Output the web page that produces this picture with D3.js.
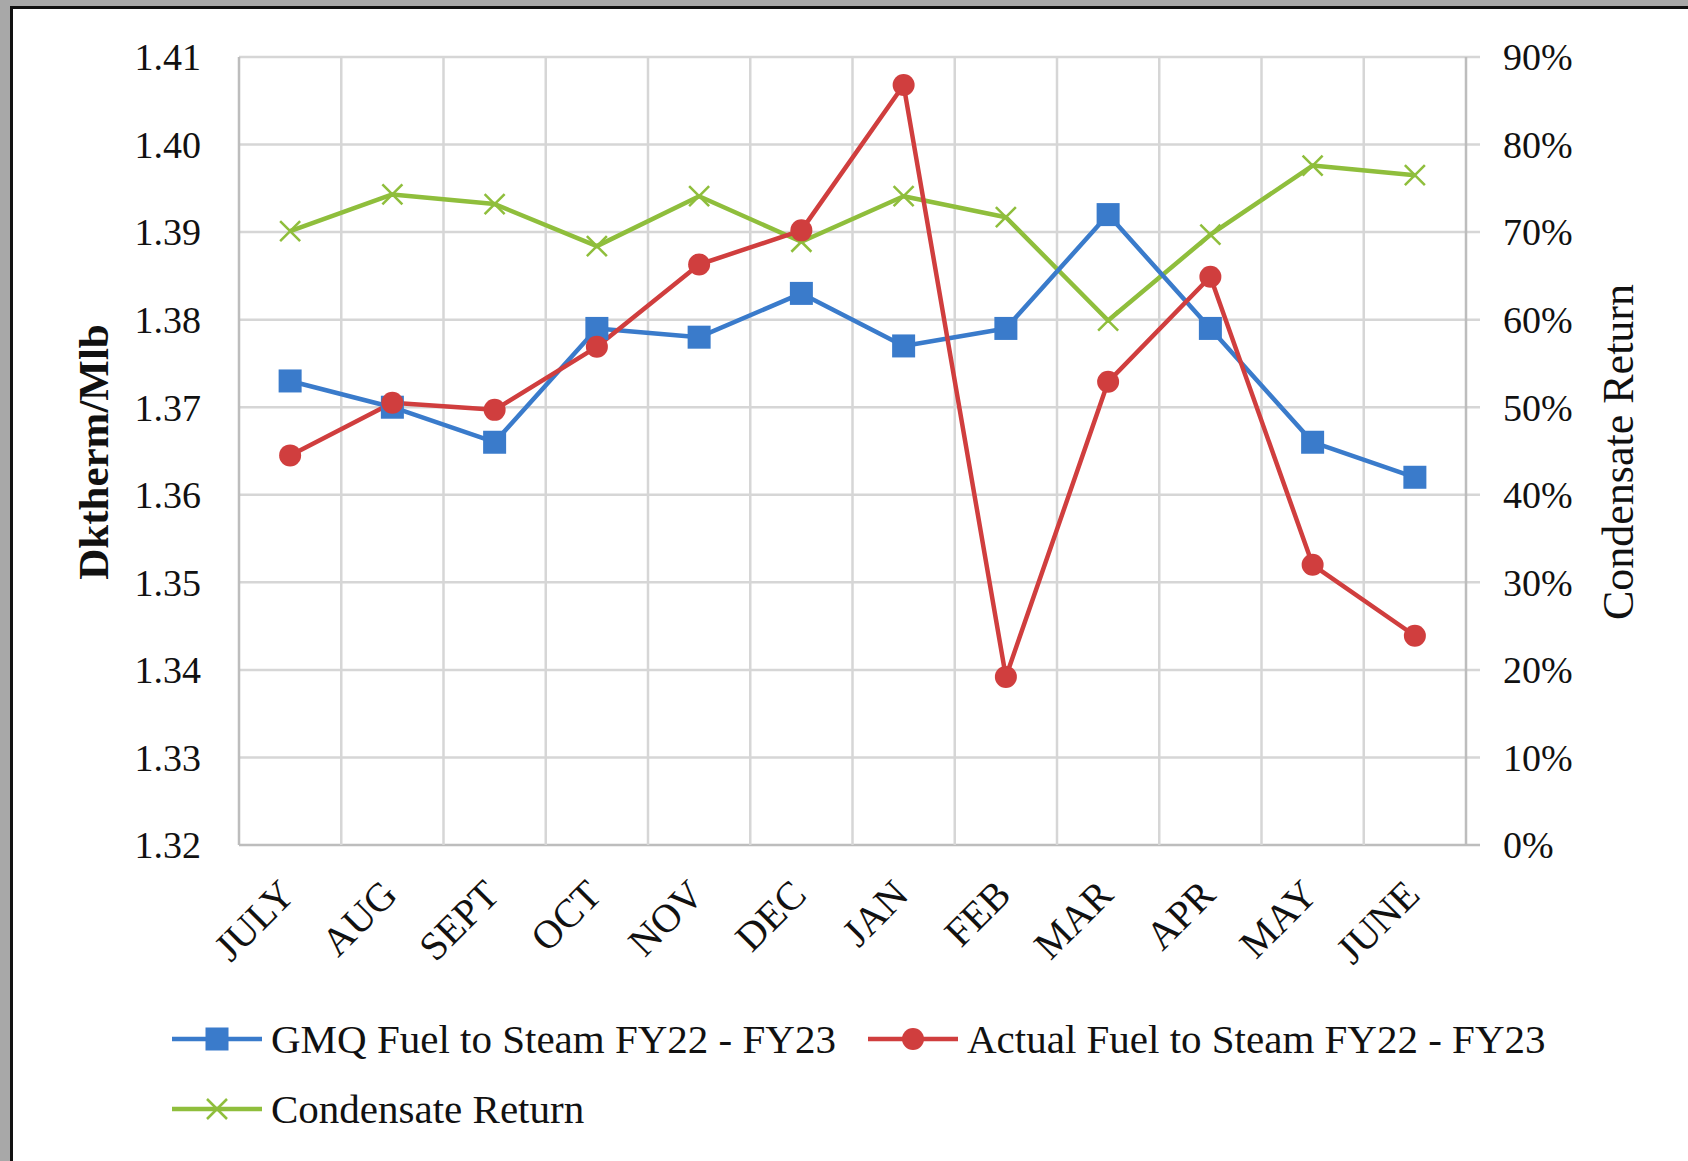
<!DOCTYPE html>
<html><head><meta charset="utf-8">
<script src="https://cdn.jsdelivr.net/npm/d3@7"></script>
<style>
html,body{margin:0;padding:0;background:#fff;}
svg{display:block;}
text{font-family:"Liberation Serif","Times New Roman",serif;fill:#111;}
</style></head>
<body>
<svg id="chart" width="1688" height="1161"></svg>
<script>
const months = ["JULY","AUG","SEPT","OCT","NOV","DEC","JAN","FEB","MAR","APR","MAY","JUNE"];
const gmq = [1.373,1.370,1.366,1.379,1.378,1.383,1.377,1.379,1.392,1.379,1.366,1.362];
const actual = [1.3645,1.3705,1.3697,1.3769,1.3863,1.3902,1.4068,1.3392,1.3729,1.3849,1.352,1.3439];
const condensate = [0.701,0.743,0.732,0.684,0.741,0.689,0.741,0.717,0.599,0.697,0.776,0.765];
const leftTicks = [1.32,1.33,1.34,1.35,1.36,1.37,1.38,1.39,1.40,1.41];
const rightTicks = [0,0.1,0.2,0.3,0.4,0.5,0.6,0.7,0.8,0.9];
const seriesNames = ["GMQ Fuel to Steam FY22 - FY23","Actual Fuel to Steam FY22 - FY23","Condensate Return"];
const leftTitle = "Dktherm/Mlb";
const rightTitle = "Condensate Return";

const svg = d3.select("#chart");
const W = 1688, H = 1161;
const P = {left:239, right:1466, top:57, bottom:845};
const colors = {blue:"#3A7BCB", red:"#D03E3E", green:"#8FBE3C", grid:"#D6D6D6", axis:"#BDBDBD"};

// frame
svg.append("rect").attr("x",0).attr("y",0).attr("width",W).attr("height",H).attr("fill","#fff");
svg.append("rect").attr("x",0).attr("y",0).attr("width",10).attr("height",H).attr("fill","#A8A8A8");
svg.append("rect").attr("x",0).attr("y",0).attr("width",W).attr("height",6).attr("fill","#A8A8A8");
svg.append("rect").attr("x",10).attr("y",6).attr("width",3).attr("height",H-6).attr("fill","#111");
svg.append("rect").attr("x",10).attr("y",6).attr("width",W-10).attr("height",3).attr("fill","#111");

const x = d3.scaleBand().domain(months).range([P.left,P.right]).paddingInner(0).paddingOuter(0);
const y = d3.scaleLinear().domain([1.32,1.41]).range([P.bottom,P.top]);
const y2 = d3.scaleLinear().domain([0,0.9]).range([P.bottom,P.top]);
const cx = m => x(m) + x.bandwidth()/2;

// grid
const g = svg.append("g");
leftTicks.forEach(t=>{
  g.append("line").attr("x1",P.left).attr("x2",P.right+14).attr("y1",y(t)).attr("y2",y(t))
   .attr("stroke", t===1.32? colors.axis: colors.grid).attr("stroke-width",2.5);
});
months.forEach(m=>{
  g.append("line").attr("x1",x(m)).attr("x2",x(m)).attr("y1",P.top).attr("y2",P.bottom)
   .attr("stroke", m===months[0]? colors.axis: colors.grid).attr("stroke-width",2.5);
});
g.append("line").attr("x1",P.right).attr("x2",P.right).attr("y1",P.top).attr("y2",P.bottom)
 .attr("stroke",colors.axis).attr("stroke-width",2.5);

// left axis labels
const fmtL = d3.format(".2f");
svg.append("g").selectAll("text").data(leftTicks).join("text")
  .attr("x",201).attr("y",d=>y(d)).attr("dy","0.35em").attr("text-anchor","end")
  .attr("font-size",38).text(d=>fmtL(d));
// right axis labels
const fmtR = d3.format(".0%");
svg.append("g").selectAll("text").data(rightTicks).join("text")
  .attr("x",1503).attr("y",d=>y2(d)).attr("dy","0.35em").attr("text-anchor","start")
  .attr("font-size",38).text(d=>fmtR(d));
// x labels
svg.append("g").selectAll("text").data(months).join("text")
  .attr("transform",d=>`translate(${cx(d)-3},${P.bottom+42}) rotate(-45)`)
  .attr("text-anchor","end").attr("dy","0.35em").attr("font-size",40).text(d=>d);

// titles
svg.append("text").attr("transform",`translate(108,452) rotate(-90)`).attr("text-anchor","middle")
  .attr("font-size",43).attr("font-weight","bold").text(leftTitle);
svg.append("text").attr("transform",`translate(1633,452) rotate(-90)`).attr("text-anchor","middle")
  .attr("font-size",44).text(rightTitle);

// lines
const lineL = d3.line().x((d,i)=>cx(months[i])).y(d=>y(d));
const lineR = d3.line().x((d,i)=>cx(months[i])).y(d=>y2(d));
svg.append("path").attr("d",lineR(condensate)).attr("fill","none").attr("stroke",colors.green).attr("stroke-width",4.5).attr("stroke-linejoin","round");
svg.append("path").attr("d",lineL(gmq)).attr("fill","none").attr("stroke",colors.blue).attr("stroke-width",4.5).attr("stroke-linejoin","round");
svg.append("path").attr("d",lineL(actual)).attr("fill","none").attr("stroke",colors.red).attr("stroke-width",4.5).attr("stroke-linejoin","round");

function xMark(sel, px, py, s){
  sel.append("path").attr("d",`M${px-s},${py-s}L${px+s},${py+s}M${px-s},${py+s}L${px+s},${py-s}`)
   .attr("stroke",colors.green).attr("stroke-width",2.5).attr("fill","none");
}
const mk = svg.append("g");
condensate.forEach((d,i)=>xMark(mk, cx(months[i]), y2(d), 10));
gmq.forEach((d,i)=>{
  mk.append("rect").attr("x",cx(months[i])-11.5).attr("y",y(d)-11.5).attr("width",23).attr("height",23).attr("fill",colors.blue);
});
actual.forEach((d,i)=>{
  mk.append("circle").attr("cx",cx(months[i])).attr("cy",y(d)).attr("r",11).attr("fill",colors.red);
});

// legend
const lg = svg.append("g");
function legendItem(x0, yy, color, type, label){
  lg.append("line").attr("x1",x0).attr("x2",x0+90).attr("y1",yy).attr("y2",yy).attr("stroke",color).attr("stroke-width",4.5);
  const c = x0+45;
  if(type==="square") lg.append("rect").attr("x",c-11.5).attr("y",yy-11.5).attr("width",23).attr("height",23).attr("fill",color);
  else if(type==="circle") lg.append("circle").attr("cx",c).attr("cy",yy).attr("r",11).attr("fill",color);
  else xMark(lg, c, yy, 10);
  lg.append("text").attr("x",x0+99).attr("y",yy).attr("dy","0.35em").attr("font-size",41).text(label);
}
legendItem(172,1039,colors.blue,"square",seriesNames[0]);
legendItem(868,1039,colors.red,"circle",seriesNames[1]);
legendItem(172,1109,colors.green,"x",seriesNames[2]);
</script>
</body></html>
